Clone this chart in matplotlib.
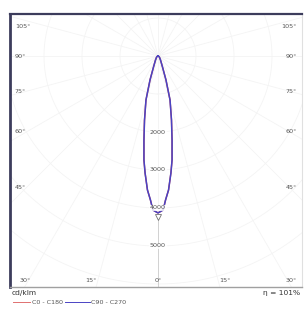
import numpy as np
import matplotlib
matplotlib.use('Agg')
import matplotlib.pyplot as plt

# luminous intensity distribution, cd/klm, gamma measured from nadir
gamma = [0, 1.9, 3, 4.5, 6.3, 7.7, 9.5, 11.9, 15.3, 18.4, 22.2, 32, 48, 59, 75, 90]
cd_c0_c180 = [4130, 4055, 3795, 3537, 3098, 2761, 2241, 1721, 1200, 666, 313, 124, 53, 31, 10, 0]
cd_c90_c270 = [4130, 4055, 3795, 3537, 3098, 2761, 2241, 1721, 1200, 666, 313, 124, 53, 31, 10, 0]

ring_values = [1000, 2000, 3000, 4000, 5000, 6000]
ring_labels = ['2000', '3000', '4000', '5000']
side_angles = [105, 90, 75, 60, 45]
bottom_angles = [15, 0]
eta = '101%'

W, H = 305, 309
px = 38.0 / 1000  # pixels per cd/klm
ox, oy = 158, 56  # origin in pixels
box = (10, 302, 14, 287)  # left, right, top, bottom in pixels

fig = plt.figure(figsize=(W / 100, H / 100), dpi=100)
ax = fig.add_axes([box[0] / W, 1 - box[3] / H, (box[1] - box[0]) / W, (box[3] - box[2]) / H])
ax.set_xlim((box[0] - ox) / px, (box[1] - ox) / px)
ax.set_ylim(-(box[3] - oy) / px, (oy - box[2]) / px)
ax.set_aspect('equal', adjustable='box')
ax.set_xticks([])
ax.set_yticks([])

ax.spines['left'].set_color('#3c3c5c')
ax.spines['left'].set_linewidth(2)
ax.spines['top'].set_color('#3c3c5c')
ax.spines['top'].set_linewidth(1.6)
ax.spines['bottom'].set_color('#a0a0a0')
ax.spines['bottom'].set_linewidth(1)
ax.spines['right'].set_color('#e0e0e0')
ax.spines['right'].set_linewidth(0.8)

# faint grid
t = np.linspace(0, 2 * np.pi, 400)
for r in ring_values:
    ax.plot(r * np.sin(t), -r * np.cos(t), color='#f4f4f4', lw=0.6, zorder=1)
for a in range(0, 181, 15):
    g = np.radians(a)
    ax.plot([0, 9000 * np.sin(g)], [0, -9000 * np.cos(g)], color='#f4f4f4', lw=0.6, zorder=1)
    ax.plot([0, -9000 * np.sin(g)], [0, -9000 * np.cos(g)], color='#f4f4f4', lw=0.6, zorder=1)
ax.plot([0, 0], [-4300, -8000], color='#cccccc', lw=0.6, zorder=1)


def curve(angles, values):
    g = np.radians(np.concatenate([-np.array(angles[::-1]), np.array(angles[1:])]))
    r = np.concatenate([np.array(values[::-1]), np.array(values[1:])])
    return r * np.sin(g), -r * np.cos(g)


x0, y0 = curve(gamma, cd_c0_c180)
x1, y1 = curve(gamma, cd_c90_c270)
ax.plot(x0, y0, color='#d04040', lw=1.0, zorder=3, solid_joinstyle='round')
ax.plot(x1, y1, color='#4a44c4', lw=1.1, zorder=4, solid_joinstyle='round')

# small direction marker
ax.plot([0], [-4250], marker='v', ms=5, mfc='white', mec='#707070', mew=0.6, zorder=5)

# radial value labels
for lab in ring_labels:
    v = float(lab)
    ax.text(0, -v, lab, ha='center', va='center', fontsize=4.6, color='#555555',
            zorder=6, bbox=dict(boxstyle='square,pad=0.1', fc='white', ec='none', alpha=0.8))

xl, xr = ax.get_xlim()
yb, yt = ax.get_ylim()
lab_kw = dict(fontsize=4.6, color='#555555', va='center')
for a in side_angles:
    g = np.radians(a)
    y = -np.cos(g) / np.sin(g) * 3450
    y = min(y, yt - 340)
    ax.text(xl + 130, y, f'{a}°', ha='left', **lab_kw)
    ax.text(xr - 130, y, f'{a}°', ha='right', **lab_kw)

yy = yb + 170
for a in bottom_angles:
    x = np.tan(np.radians(a)) * 6600
    ax.text(-x, yy, f'{a}°', ha='center', **lab_kw)
    if a:
        ax.text(x, yy, f'{a}°', ha='center', **lab_kw)
ax.text(xl + 250, yy, '30°', ha='left', **lab_kw)
ax.text(xr - 130, yy, '30°', ha='right', **lab_kw)

# footer
fig.text(12 / W, 1 - 293 / H, 'cd/klm', fontsize=5.4, color='#333333', va='center', ha='left')
fig.text(300 / W, 1 - 293 / H, 'η = ' + eta, fontsize=5.4, color='#333333', va='center', ha='right')
fig.add_artist(plt.Line2D([13 / W, 30 / W], [1 - 302 / H] * 2, color='#e07070', lw=0.7))
fig.text(32 / W, 1 - 302 / H, 'C0 - C180', fontsize=4.6, color='#555555', va='center', ha='left')
fig.add_artist(plt.Line2D([65 / W, 90 / W], [1 - 302 / H] * 2, color='#4a44c4', lw=0.7))
fig.text(91 / W, 1 - 302 / H, 'C90 - C270', fontsize=4.6, color='#555555', va='center', ha='left')

fig.savefig('out.png', dpi=100)
